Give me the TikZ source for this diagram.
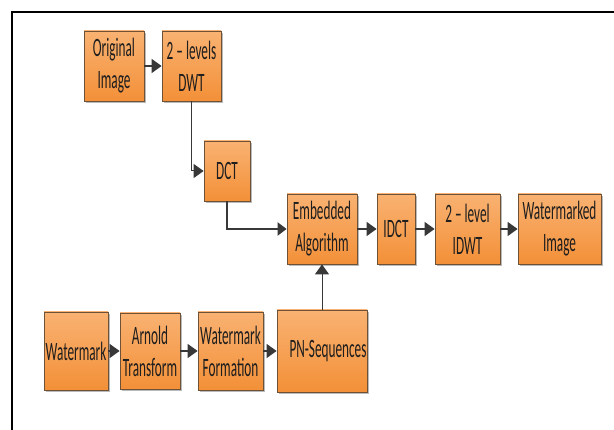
\documentclass[tikz,border=0pt]{standalone}
\usepackage{fontspec}
\setmainfont[FakeStretch=0.5]{Carlito}
\usetikzlibrary{arrows.meta,shadows,calc}
\definecolor{boxtop}{HTML}{F9B272}
\definecolor{boxbot}{HTML}{F39038}
\definecolor{boxline}{HTML}{6E5238}
\definecolor{conn}{HTML}{383838}
\definecolor{txt}{HTML}{1E1E1E}
\begin{document}
\begin{tikzpicture}[x=1pt,y=1pt,
  blk/.style={draw=boxline, line width=0.8pt, top color=boxtop, bottom color=boxbot,
    inner sep=0pt, align=center, text=txt,
    font=\fontsize{26.5}{32}\selectfont,
    drop shadow={shadow xshift=2pt, shadow yshift=-2pt, fill=black!45, opacity=0.6}},
  arr/.style={draw=conn, line width=1.3pt, -{Triangle[length=10pt,width=14pt]}},
  thinarr/.style={draw=conn, line width=1pt, -{Triangle[length=10pt,width=14pt]}},
  thickarr/.style={draw=conn, line width=2.2pt, -{Triangle[length=9pt,width=13pt]}}
]
\useasboundingbox (0,0) rectangle (614,430);
\fill[white] (0,0) rectangle (614,430);
\coordinate (ftl) at (12,418);
\coordinate (ftr) at (614,418);
\coordinate (fbl) at (12,0);
\draw[line width=1.2pt, black] (ftr) -- (ftl) -- (fbl);

\node[blk, minimum width=60pt, minimum height=70pt] (orig) at (114,364) {Original\\Image};
\node[blk, minimum width=59pt, minimum height=70pt] (dwt) at (191.5,364) {2 -- levels\\DWT};
\node[blk, minimum width=46pt, minimum height=60pt] (dct) at (227,259) {DCT};
\node[blk, minimum width=70pt, minimum height=70pt] (emb) at (322,201) {Embedded\\Algorithm};
\node[blk, minimum width=38pt, minimum height=70pt] (idct) at (396,201) {IDCT};
\node[blk, minimum width=65pt, minimum height=70pt] (idwt) at (467.5,201) {2 -- level\\IDWT};
\node[blk, minimum width=83pt, minimum height=70pt] (wmi) at (559.5,201) {Watermarked\\Image};
\node[blk, minimum width=64pt, minimum height=78pt] (wm) at (76,79) {Watermark};
\node[blk, minimum width=60pt, minimum height=76pt] (arn) at (150,79) {Arnold\\Transform};
\node[blk, minimum width=65pt, minimum height=78pt] (wmf) at (230.5,79) {Watermark\\Formation};
\node[blk, minimum width=90pt, minimum height=82pt] (pn) at (322,79) {\hspace*{12pt}PN-Sequences};

\draw[arr] (orig) -- (dwt);
\draw[thinarr] (dwt.south) |- (dct.west);
\draw[thickarr] (dct.south) |- (emb.west);
\draw[thinarr] (pn.north) -- (emb.south);
\draw[arr] (emb) -- (idct);
\draw[arr] (idct) -- (idwt);
\draw[arr] (idwt) -- (wmi);
\draw[arr] (wm) -- (arn);
\draw[arr] (arn) -- (wmf);
\draw[arr] (wmf) -- (pn);
\end{tikzpicture}
\end{document}
